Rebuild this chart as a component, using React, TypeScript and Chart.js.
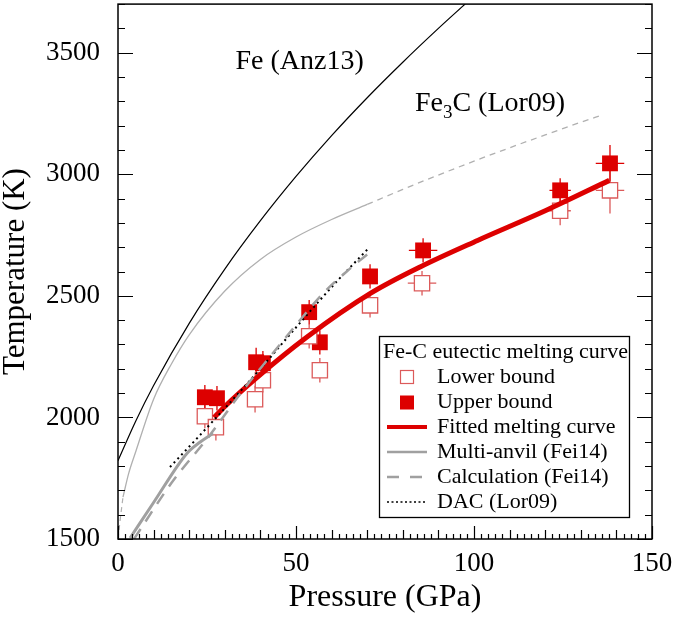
import React, { useEffect, useRef } from 'react';
import { Chart, registerables } from 'chart.js';

Chart.register(...registerables);

const FONT = '"Liberation Serif", "Times New Roman", Times, serif';
const SHIFT = 8; // canvas is drawn 8px taller and shifted up

// Fe (Anz13)
const anzPressure = [0, 5, 10, 20, 30, 40, 50, 60, 70, 80, 90, 97.5];
const anzTemperature = [1822, 1985, 2131, 2387, 2610, 2809, 2991, 3159, 3315, 3461, 3600, 3700];

// Fe3C (Lor09)
const lorLowPressure = [0, 0.7, 1.4];
const lorLowTemperature = [1500, 1590, 1672];
const lorPressure = [1.4, 3, 5, 10, 15, 20, 30, 40, 50, 60, 70];
const lorTemperature = [1672, 1770, 1860, 2075, 2220, 2340, 2520, 2650, 2742, 2814, 2876];
const lorExtPressure = [70, 80, 90, 100, 110, 120, 130, 136];
const lorExtTemperature = [2876, 2938, 2997, 3054, 3109, 3162, 3214, 3244];

// Multi-anvil (Fei14)
const maPressure = [3.4, 10, 19.4, 23, 26.7];
const maTemperature = [1504, 1650, 1853, 1898, 1935];

// Calculation (Fei14)
const calcPressure = [4.5, 15, 25.8, 35, 42.7, 50, 57.6, 65, 70];
const calcTemperature = [1500, 1730, 1927, 2110, 2250, 2380, 2510, 2610, 2670];

// DAC (Lor09)
const dacPressure = [14.6, 26.7, 40, 50, 61.5, 70];
const dacTemperature = [1796, 1985, 2200, 2370, 2560, 2690];

// Fitted melting curve
const fitPressure = [27, 30, 39, 53, 71, 85, 101, 120, 138];
const fitTemperature = [2000, 2045, 2164, 2330, 2511, 2620, 2728, 2850, 2975];

// Lower bound
const lowerP = [24.4, 27.5, 38.5, 40.7, 53.7, 56.7, 70.8, 85.4, 124.2, 138.2];
const lowerT = [2005, 1960, 2075, 2153, 2334, 2194, 2461, 2552, 2850, 2934];
const lowerPErr = [1, 1, 1, 1.5, 1.5, 1.5, 2, 4, 3, 4];
const lowerTErr = [50, 55, 55, 50, 50, 50, 50, 50, 60, 95];

// Upper bound
const upperP = [24.4, 27.8, 38.8, 40.7, 53.7, 56.7, 70.8, 85.7, 124.2, 138.2];
const upperT = [2083, 2079, 2227, 2223, 2433, 2309, 2580, 2687, 2934, 3045];
const upperPErr = [1, 1, 1, 1.5, 1.5, 1.5, 2, 4, 3, 4];
const upperTErr = [50, 50, 60, 50, 50, 50, 50, 50, 50, 75];

const xTicks = [0, 50, 100, 150];
const yTicks = [1500, 2000, 2500, 3000, 3500];

const RED = '#dd0000';
const OPEN_RED = '#dc5a5a';

const zip = (xs: number[], ys: number[]) => xs.map((x, i) => ({ x, y: ys[i] }));

const lineDs = (label: string, xs: number[], ys: number[], color: string, width: number, dash: number[] = []) => ({
  label,
  data: zip(xs, ys),
  showLine: true,
  borderColor: color,
  backgroundColor: color,
  borderWidth: width,
  borderDash: dash,
  pointRadius: 0,
  fill: false,
  cubicInterpolationMode: 'monotone' as const,
});

const noPad = (s: any) => {
  s.paddingTop = 0;
  s.paddingBottom = 0;
  s.paddingLeft = 0;
  s.paddingRight = 0;
};

const decorPlugin = {
  id: 'decor',
  beforeDatasetsDraw(chart: any) {
    const ctx = chart.ctx;
    const xs = chart.scales.x;
    const ys = chart.scales.y;
    ctx.save();
    ctx.lineWidth = 1.3;
    const drawErr = (P: number[], T: number[], pe: number[], te: number[], color: string) => {
      ctx.strokeStyle = color;
      P.forEach((p, i) => {
        const cx = xs.getPixelForValue(p);
        const cy = ys.getPixelForValue(T[i]);
        ctx.beginPath();
        ctx.moveTo(xs.getPixelForValue(p - pe[i]), cy);
        ctx.lineTo(xs.getPixelForValue(p + pe[i]), cy);
        ctx.moveTo(cx, ys.getPixelForValue(T[i] - te[i]));
        ctx.lineTo(cx, ys.getPixelForValue(T[i] + te[i]));
        ctx.stroke();
      });
    };
    drawErr(lowerP, lowerT, lowerPErr, lowerTErr, OPEN_RED);
    drawErr(upperP, upperT, upperPErr, upperTErr, RED);
    ctx.restore();
  },
  afterDatasetsDraw(chart: any) {
    const ctx = chart.ctx;
    const { left, right, top, bottom } = chart.chartArea;
    const xs = chart.scales.x;
    const ys = chart.scales.y;
    ctx.save();
    ctx.strokeStyle = '#000';
    ctx.lineWidth = 1.5;
    ctx.strokeRect(left, top, right - left, bottom - top);
    ctx.lineWidth = 1.2;
    ctx.beginPath();
    for (let v = 0; v <= 150; v += 2) {
      const px = Math.round(xs.getPixelForValue(v)) + 0.5;
      const len = v % 50 === 0 ? 13 : v % 10 === 0 ? 9 : 5;
      ctx.moveTo(px, bottom);
      ctx.lineTo(px, bottom - len);
    }
    for (let v = 1500; v <= 3700; v += 100) {
      const py = Math.round(ys.getPixelForValue(v)) + 0.5;
      const len = v % 500 === 0 ? 15 : 7;
      ctx.moveTo(left, py);
      ctx.lineTo(left + len, py);
      ctx.moveTo(right, py);
      ctx.lineTo(right - len, py);
    }
    ctx.stroke();

    // annotations
    ctx.fillStyle = '#000';
    ctx.textBaseline = 'alphabetic';
    ctx.textAlign = 'left';
    ctx.font = `28px ${FONT}`;
    ctx.fillText('Fe (Anz13)', xs.getPixelForValue(33), ys.getPixelForValue(3435));
    let x0 = xs.getPixelForValue(83.4);
    const y0 = ys.getPixelForValue(3262);
    ctx.fillText('Fe', x0, y0);
    x0 += ctx.measureText('Fe').width;
    ctx.font = `19px ${FONT}`;
    ctx.fillText('3', x0, y0 + 7);
    x0 += ctx.measureText('3').width;
    ctx.font = `28px ${FONT}`;
    ctx.fillText('C (Lor09)', x0, y0);
    ctx.restore();
  },
  afterDraw(chart: any) {
    const ctx = chart.ctx;
    ctx.save();
    const bx = 379.5, by = 336.5 + SHIFT, bw = 250, bh = 181;
    ctx.fillStyle = '#fff';
    ctx.fillRect(bx, by, bw, bh);
    ctx.strokeStyle = '#000';
    ctx.lineWidth = 1.3;
    ctx.strokeRect(bx, by, bw, bh);
    ctx.fillStyle = '#000';
    ctx.font = `22px ${FONT}`;
    ctx.textBaseline = 'middle';
    ctx.textAlign = 'left';
    ctx.fillText('Fe-C eutectic melting curve', 383, 352 + SHIFT);
    const rows = [377, 402, 427, 452, 477, 502].map((r) => r + SHIFT);
    const labels = ['Lower bound', 'Upper bound', 'Fitted melting curve', 'Multi-anvil (Fei14)', 'Calculation (Fei14)', 'DAC (Lor09)'];
    labels.forEach((t, i) => ctx.fillText(t, 437, rows[i]));
    ctx.strokeStyle = OPEN_RED;
    ctx.lineWidth = 1.2;
    ctx.strokeRect(400.5, rows[0] - 6.5, 13, 13);
    ctx.fillStyle = RED;
    ctx.fillRect(400, rows[1] - 6.5, 14, 14);
    const seg = (y: number, color: string, w: number, dash: number[]) => {
      ctx.beginPath();
      ctx.setLineDash(dash);
      ctx.strokeStyle = color;
      ctx.lineWidth = w;
      ctx.moveTo(387, y);
      ctx.lineTo(427, y);
      ctx.stroke();
    };
    seg(rows[2], RED, 4, []);
    seg(rows[3], '#a0a0a0', 2.5, []);
    seg(rows[4], '#a0a0a0', 2.5, [12, 11]);
    seg(rows[5], '#000', 1.5, [2, 2.5]);
    ctx.restore();
  },
};

export default function App() {
  const ref = useRef<HTMLCanvasElement>(null);
  useEffect(() => {
    document.body.style.margin = '0';
    const canvas = ref.current;
    if (!canvas) return;
    const chart = new Chart(canvas, {
      type: 'scatter',
      data: {
        datasets: [
          lineDs('Fe (Anz13)', anzPressure, anzTemperature, '#000', 1.2),
          lineDs('Fe3C low', lorLowPressure, lorLowTemperature, '#b0b0b0', 1.2, [5, 4]),
          lineDs('Fe3C (Lor09)', lorPressure, lorTemperature, '#b0b0b0', 1.3),
          lineDs('Fe3C ext', lorExtPressure, lorExtTemperature, '#b0b0b0', 1.3, [6, 5]),
          lineDs('Multi-anvil (Fei14)', maPressure, maTemperature, '#a0a0a0', 3),
          lineDs('Calculation (Fei14)', calcPressure, calcTemperature, '#a0a0a0', 2.5, [12, 9]),
          lineDs('DAC (Lor09)', dacPressure, dacTemperature, '#000', 2, [2, 3.5]),
          lineDs('Fitted melting curve', fitPressure, fitTemperature, RED, 5),
          {
            label: 'Lower bound',
            data: zip(lowerP, lowerT),
            pointStyle: 'rect',
            pointRadius: 10.8,
            pointBackgroundColor: '#fff',
            pointBorderColor: OPEN_RED,
            pointBorderWidth: 1.3,
            showLine: false,
          },
          {
            label: 'Upper bound',
            data: zip(upperP, upperT),
            pointStyle: 'rect',
            pointRadius: 11.2,
            pointBackgroundColor: RED,
            pointBorderColor: RED,
            pointBorderWidth: 0,
            showLine: false,
          },
        ],
      },
      options: {
        animation: false,
        responsive: false,
        devicePixelRatio: 1,
        layout: { padding: { left: 0, right: 25, top: 4, bottom: 0 } },
        plugins: { legend: { display: false }, tooltip: { enabled: false } },
        scales: {
          x: {
            type: 'linear',
            min: 0,
            max: 150,
            grid: { display: false, drawTicks: false },
            border: { display: false },
            afterFit: (s: any) => { s.height = 80; noPad(s); },
            afterBuildTicks: (s: any) => { s.ticks = xTicks.map((v) => ({ value: v })); },
            ticks: {
              color: '#000',
              font: { family: FONT, size: 27 },
              padding: 9,
              maxRotation: 0,
              autoSkip: false,
              callback: (v: any) => String(v),
            },
            title: {
              display: true,
              text: 'Pressure (GPa)',
              color: '#000',
              font: { family: FONT, size: 32, lineHeight: 1 },
              padding: { top: 0, bottom: 5 },
            },
          },
          y: {
            type: 'linear',
            min: 1500,
            max: 3700,
            grid: { display: false, drawTicks: false },
            border: { display: false },
            afterFit: (s: any) => { s.width = 118; noPad(s); },
            afterBuildTicks: (s: any) => { s.ticks = yTicks.map((v) => ({ value: v })); },
            ticks: {
              color: '#000',
              font: { family: FONT, size: 27 },
              padding: 18,
              autoSkip: false,
              callback: (v: any) => String(v),
            },
            title: {
              display: true,
              text: 'Temperature (K)',
              color: '#000',
              font: { family: FONT, size: 31, lineHeight: 1 },
              padding: { top: 0, bottom: 0 },
            },
          },
        },
      },
      plugins: [decorPlugin],
    } as any);
    return () => chart.destroy();
  }, []);
  return (
    <div style={{ width: 677, height: 619, overflow: 'hidden' }}>
      <canvas ref={ref} width={677} height={619 + SHIFT} style={{ display: 'block', marginTop: -SHIFT }} />
    </div>
  );
}
